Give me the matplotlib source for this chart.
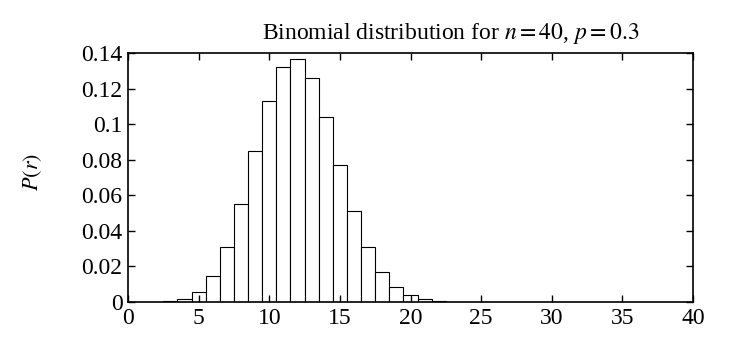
import matplotlib
matplotlib.use('Agg')
import matplotlib.pyplot as plt

plt.rcParams['font.family'] = ['Liberation Serif', 'DejaVu Serif']
plt.rcParams['mathtext.fontset'] = 'stix'

# values, r = 0 .. 40
r = list(range(41))
prob = [0.0, 0.0, 0.0001, 0.0005, 0.0017, 0.0058, 0.0148, 0.0311, 0.0553,
        0.0848, 0.1128, 0.1319, 0.1366, 0.1261, 0.1041, 0.0773, 0.0514,
        0.0311, 0.0169, 0.0084, 0.0038, 0.0017, 0.0007, 0.0002, 0.0,
        0.0, 0.0, 0.0, 0.0, 0.0, 0.0, 0.0, 0.0, 0.0, 0.0, 0.0, 0.0, 0.0,
        0.0, 0.0, 0.0]
yticks = [0, 0.02, 0.04, 0.06, 0.08, 0.1, 0.12, 0.14]
xticks = [0, 5, 10, 15, 20, 25, 30, 35, 40]

fig = plt.figure(figsize=(7.37, 3.49), dpi=100)
ax = fig.add_axes([0.1737, 0.1347, 0.7666, 0.7133])

ax.bar(r, prob, width=1.0, align='center', color='white',
       edgecolor='black', linewidth=0.8)

ax.set_xlim(0, 40)
ax.set_ylim(0, 0.14)
ax.set_xticks(xticks)
ax.set_yticks(yticks)
ax.set_yticklabels(['%g' % v for v in yticks])
ax.tick_params(direction='in', top=True, right=True, length=5, width=1,
               labelsize=17, pad=4)
for s in ax.spines.values():
    s.set_linewidth(1.2)

ax.set_ylabel('$P(r)$', fontsize=16)
ax.yaxis.set_label_coords(-0.149, 0.52)
fig.text(0.611, 0.887, 'Binomial distribution for $n = 40$, $p = 0.3$',
         ha='center', va='baseline', fontsize=17)

fig.savefig('out.png', dpi=100)
